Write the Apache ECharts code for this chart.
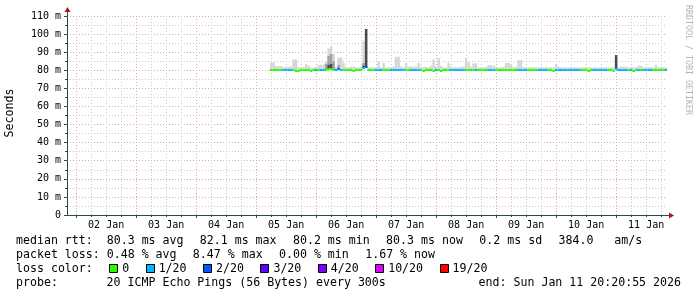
<!DOCTYPE html>
<html><head><meta charset="utf-8">
<script src="https://cdn.jsdelivr.net/npm/echarts@6/dist/echarts.min.js"></script>
<style>html,body{margin:0;padding:0;background:#fff}#c{width:697px;height:297px}</style>
</head><body><div id="c"></div>
<script>
// ---- time frame (hours since 01 Jan 00:00) ----
const startHour = 20 + 20/60 + 55/3600;      // 01 Jan 20:20:55
const endHour = startHour + 240;             // 11 Jan 20:20:55
const firstBucketHour = 101.5;               // first sample bucket
const bucketHours = 1;

// ---- tick labels ----
const dayLabels = ['02 Jan','03 Jan','04 Jan','05 Jan','06 Jan','07 Jan','08 Jan','09 Jan','10 Jan','11 Jan'];
const yMax = 110, yStep = 10;

// ---- series values (ms) per hourly bucket ----
const medianMs = [
80.3,80.3,80.2,80.3,80.3,80.3,80.3,80.2,80.3,80.3,
79.6,79.7,80.3,80.3,80.3,80.3,79.6,80.3,80.3,80.2,
80.3,80.3,80.4,80.5,80.6,80.4,80.3,80.5,80.3,80.3,
80.3,80.2,80.3,79.7,80.3,80.3,80.3,81.2,81.6,80.3,
80.3,80.2,80.3,80.3,80.3,80.3,80.2,80.3,80.3,80.3,
80.4,80.4,80.3,80.3,80.3,80.3,80.3,80.3,80.2,80.3,
80.3,79.7,80.3,80.3,80.3,79.6,80.3,80.3,79.7,80.3,
80.3,80.3,80.3,80.3,80.2,80.3,80.3,80.3,80.4,80.3,
80.3,80.3,80.3,80.3,80.3,80.3,80.3,80.3,80.3,80.3,
80.3,80.2,80.3,80.3,80.3,80.3,80.3,80.3,80.3,80.4,
80.4,80.3,80.3,80.3,80.3,80.3,80.3,80.3,80.3,80.3,
80.3,80.3,80.3,79.7,80.3,80.3,80.3,80.3,80.3,80.3,
80.3,80.3,80.3,80.3,80.3,80.3,80.3,79.7,80.3,80.3,
80.3,80.3,80.3,80.3,80.3,80.3,80.3,79.7,80.6,80.3,
80.3,80.3,80.3,80.3,80.3,79.7,80.3,80.3,80.3,80.3,
80.3,80.3,80.3,80.3,80.3,80.3,80.3,80.3,80.3];
const lossIdx = [
0,0,0,0,0,1,1,1,1,0,
0,0,0,0,0,0,0,0,1,0,
1,1,0,0,0,0,1,2,1,0,
0,0,0,0,0,0,0,1,2,0,
0,0,1,1,1,0,0,0,1,1,
1,1,1,1,0,0,1,1,1,1,
0,0,0,0,0,0,1,0,0,0,
0,0,1,1,1,1,1,1,0,0,
0,0,1,0,0,0,0,1,1,1,
0,0,0,0,0,0,0,0,0,1,
1,1,1,0,0,0,0,1,1,1,
1,0,0,0,1,1,1,1,1,1,
1,1,1,1,0,0,0,0,0,1,
1,1,1,1,1,0,0,0,1,1,
1,1,1,0,1,0,0,1,0,1,
1,1,1,0,0,0,0,0,1];
const smokeHiMs = [
84.4,84.4,82.3,82.3,82.3,81.6,82.0,82.0,82.0,86.0,
86.0,81.6,81.6,81.6,83.5,82.5,81.6,81.6,81.6,83.0,
83.0,83.0,84.7,92.0,93.0,89.0,81.8,87.0,87.0,84.0,
81.6,81.6,82.0,82.0,81.6,81.6,82.0,96.3,102.8,81.6,
81.6,81.8,81.6,84.7,81.6,84.0,81.6,81.6,81.8,82.0,
87.5,87.5,82.0,81.6,84.0,82.0,82.0,82.0,82.0,84.0,
81.6,81.6,81.8,81.6,82.5,86.0,82.0,86.7,82.5,81.6,
81.6,84.0,82.0,81.6,81.6,81.6,81.8,82.0,87.0,84.5,
82.0,83.8,83.8,81.6,81.6,81.6,81.8,82.9,82.9,82.5,
81.6,81.6,81.6,81.8,84.0,84.0,83.0,81.6,82.0,85.6,
85.6,81.8,81.6,81.6,81.6,81.8,81.6,81.6,81.6,81.6,
81.8,81.6,81.6,81.6,83.4,82.0,81.6,81.6,81.6,81.6,
81.8,81.6,81.6,81.6,81.6,81.6,81.8,81.6,81.6,81.6,
81.6,81.6,81.6,81.6,81.6,81.6,81.6,81.8,88.4,81.6,
82.0,82.0,82.0,81.6,81.6,81.6,81.6,82.5,82.5,81.6,
81.6,81.6,81.8,81.6,83.0,81.6,81.6,81.6,81.6];
// denser smoke bands: [bucket index, top ms]
const smokeMidTop = [[22,83.5],[23,88.0],[24,89.0],[25,85.0],[37,84.0],[27,83.0]];
const smokeDarkTop = [[23,83.0],[24,83.5],[37,82.5],[38,102.8],[138,88.4]];

// ---- legend ----
const lossColors = ['#26ff00','#00b8ff','#0059ff','#5e00ff','#7e00ff','#dd00ff','#ff0000'];
const lossLabels = ['0','1/20','2/20','3/20','4/20','10/20','19/20'];
const rowMedian = ['median rtt:  80.3 ms avg','82.1 ms max','80.2 ms min','80.3 ms now','0.2 ms sd','384.0   am/s'];
const rowLoss = ['packet loss: 0.48 % avg','8.47 % max','0.00 % min','1.67 % now'];
const lossColorTitle = 'loss color:';
const probeTitle = 'probe:';
const probeText = '20 ICMP Echo Pings (56 Bytes) every 300s';
const endText = 'end: Sun Jan 11 20:20:55 2026';
const yTitle = 'Seconds';
const watermark = 'RRDTOOL / TOBI OETIKER';

// ---- build data ----
const bStart = i => firstBucketHour + i*bucketHours;
const bEnd = i => Math.min(endHour, firstBucketHour + (i+1)*bucketHours);
const lightData = medianMs.map((m,i)=>[bStart(i), bEnd(i), m, smokeHiMs[i]]);
const midData = smokeMidTop.map(([i,t])=>[bStart(i), bEnd(i), medianMs[i], t]);
const darkData = smokeDarkTop.map(([i,t])=>[bStart(i), bEnd(i), medianMs[i], t]);
const medData = medianMs.map((m,i)=>[bStart(i), bEnd(i), m, lossIdx[i]]);

const sixHourTicks = [], midnightTicks = [], noonTicks = [];
for (let h = 6; h < endHour; h += 6) {
  if (h <= startHour) continue;
  if (h % 24 === 0) midnightTicks.push(h); else sixHourTicks.push(h);
  if (h % 24 === 12) noonTicks.push(h);
}

function rectItem(params, api) {
  const a = api.coord([api.value(0), api.value(3)]);
  const b = api.coord([api.value(1), api.value(2)]);
  return {type:'rect', shape:{x:a[0], y:a[1], width:b[0]-a[0], height:b[1]-a[1]},
          style:{fill: api.visual('color')}};
}
function medItem(params, api) {
  const a = api.coord([api.value(0), api.value(2)]);
  const b = api.coord([api.value(1), api.value(2)]);
  const yc = Math.round(a[1]);
  return {type:'rect', shape:{x:a[0], y:yc-1, width:b[0]-a[0], height:2},
          style:{fill: lossColors[api.value(3)]}};
}

const MONO = '"DejaVu Sans Mono", monospace';
const gridRed = '#dda6a6', gridGray = '#c8c8c8', axisCol = '#2c4d43', arrowCol = '#9b1c1c';

// legend graphics
const CW = 6.97, GAP = 16.5, LFONT = '11.6px ' + MONO;
const g = [];
function txt(t, x, y, extra) { g.push(Object.assign({type:'text', x, y, silent:true,
  style:{text:t, font:LFONT, fill:'#000', align:'left', verticalAlign:'middle'}}, extra||{})); }
let x = 16;
rowMedian.forEach(t => { txt(t, x, 241); x += t.length*CW + GAP; });
x = 16;
rowLoss.forEach(t => { txt(t, x, 255); x += t.length*CW + GAP; });
txt(lossColorTitle, 16, 269);
x = 16 + lossColorTitle.length*CW + GAP;
lossLabels.forEach((t,i) => {
  g.push({type:'rect', silent:true, shape:{x:Math.round(x)+0.5, y:264.5, width:8, height:8},
          style:{fill:lossColors[i], stroke:'#000', lineWidth:1}});
  txt(t, x + 13, 269);
  x += 13 + t.length*CW + GAP;
});
txt(probeTitle, 16, 283);
txt(probeText, 16 + 13*CW, 283);
g.push({type:'text', x:681, y:283, silent:true, style:{text:endText, font:LFONT, fill:'#000', align:'right', verticalAlign:'middle'}});
g.push({type:'text', x:10, y:113, rotation:Math.PI/2, silent:true, style:{text:yTitle, font:LFONT, fill:'#000', align:'center', verticalAlign:'middle'}});
g.push({type:'text', x:688, y:60, rotation:-Math.PI/2, silent:true, style:{text:watermark, font:'8.3px '+MONO, fill:'#b4b4b4', align:'center', verticalAlign:'middle'}});
// axis extensions + arrows
g.push({type:'line', silent:true, shape:{x1:67.5, y1:16, x2:67.5, y2:10}, style:{stroke:axisCol, lineWidth:1}});
g.push({type:'polygon', silent:true, shape:{points:[[64.5,12],[70.5,12],[67.5,7]]}, style:{fill:arrowCol}});
g.push({type:'line', silent:true, shape:{x1:667, y1:215.5, x2:671, y2:215.5}, style:{stroke:axisCol, lineWidth:1}});
g.push({type:'polygon', silent:true, shape:{points:[[669,212.5],[669,218.5],[674,215.5]]}, style:{fill:arrowCol}});

const chart = echarts.init(document.getElementById('c'), null, {renderer:'canvas'});
chart.setOption({
  animation:false,
  backgroundColor:'#fff',
  grid:{left:67, right:30, top:16, bottom:82, containLabel:false},
  xAxis:[{
    type:'value', min:startHour, max:endHour, position:'bottom',
    axisLine:{show:false, onZero:false},
    axisTick:{show:true, length:2, customValues:sixHourTicks, lineStyle:{color:axisCol}},
    axisLabel:{show:false},
    splitLine:{show:true, lineStyle:{color:gridGray, type:[1,2], width:1}}
  },{
    type:'value', min:startHour, max:endHour, position:'bottom',
    axisLine:{show:true, onZero:false, lineStyle:{color:axisCol, width:1}},
    axisTick:{show:true, length:3, customValues:midnightTicks, lineStyle:{color:axisCol}},
    axisLabel:{show:true, customValues:noonTicks, margin:5, fontFamily:MONO, fontSize:10, color:'#000',
      formatter:v => dayLabels[Math.round((v-36)/24)]},
    splitLine:{show:true, lineStyle:{color:gridRed, type:[1,2], width:1}}
  }],
  yAxis:{
    type:'value', min:0, max:yMax, interval:yStep,
    axisLine:{show:true, lineStyle:{color:axisCol, width:1}},
    axisTick:{show:true, length:3, lineStyle:{color:axisCol}},
    minorTick:{show:true, splitNumber:2, length:2, lineStyle:{color:axisCol}},
    axisLabel:{margin:6, fontFamily:MONO, fontSize:10, color:'#000', formatter:v => v===0 ? '0' : v + ' m'},
    splitLine:{show:true, lineStyle:{color:gridRed, type:[1,2], width:1}},
    minorSplitLine:{show:true, lineStyle:{color:gridGray, type:[1,2], width:1}}
  },
  graphic:g,
  series:[
    {type:'custom', name:'smoke', xAxisIndex:1, renderItem:rectItem, data:lightData, encode:{x:[0,1], y:[2,3]}, itemStyle:{color:'#d6d6d6'}, clip:true, silent:true},
    {type:'custom', name:'smokeMid', xAxisIndex:1, renderItem:rectItem, data:midData, encode:{x:[0,1], y:[2,3]}, itemStyle:{color:'#a2a2a2'}, clip:true, silent:true},
    {type:'custom', name:'smokeDark', xAxisIndex:1, renderItem:rectItem, data:darkData, encode:{x:[0,1], y:[2,3]}, itemStyle:{color:'#4a4a4a'}, clip:true, silent:true},
    {type:'custom', name:'median', xAxisIndex:1, renderItem:medItem, data:medData, encode:{x:[0,1], y:[2]}, clip:true, silent:true}
  ]
});
</script></body></html>
